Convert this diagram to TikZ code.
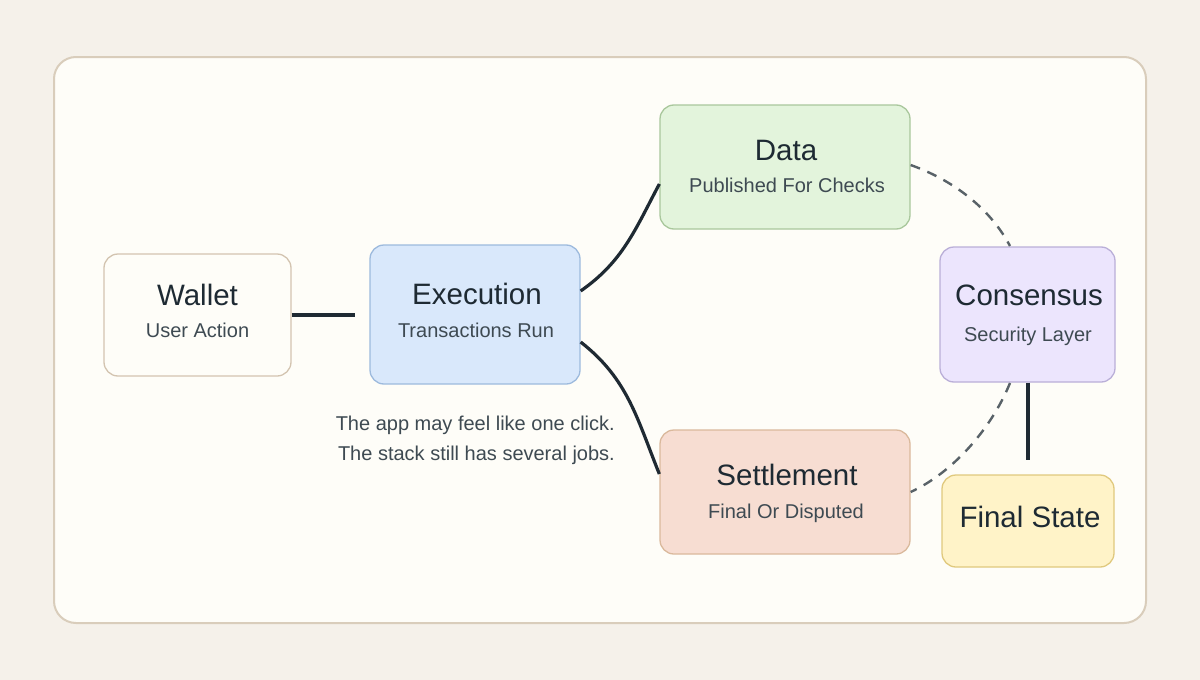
\documentclass[tikz,border=0pt]{standalone}
\usepackage{fontspec}
\setmainfont{Liberation Sans}
\definecolor{bgc}{HTML}{F5F1EA}
\definecolor{panelc}{HTML}{FEFDF8}
\definecolor{panelb}{HTML}{D9CDBB}
\definecolor{titlec}{HTML}{1E2A33}
\definecolor{subc}{HTML}{3E4A52}
\definecolor{linec}{HTML}{1F2A33}
\definecolor{dashc}{HTML}{596268}
\definecolor{walletf}{HTML}{FEFDF8}\definecolor{walletb}{HTML}{D3C4B0}
\definecolor{execf}{HTML}{D9E8FB}\definecolor{execb}{HTML}{9DBADD}
\definecolor{dataf}{HTML}{E3F4DC}\definecolor{datab}{HTML}{A9C79C}
\definecolor{consf}{HTML}{ECE5FD}\definecolor{consb}{HTML}{BAAFD8}
\definecolor{settf}{HTML}{F7DDD2}\definecolor{settb}{HTML}{DAB99C}
\definecolor{finf}{HTML}{FFF3C8}\definecolor{finb}{HTML}{E0C97E}
\tikzset{
  box/.style={draw, line width=1.3pt, rounded corners=14pt, inner sep=0pt},
  ttl/.style={anchor=base, text=titlec, font=\fontsize{29.5}{32}\selectfont, inner sep=0pt},
  sub/.style={anchor=base, text=subc, font=\fontsize{20}{24}\selectfont, inner sep=0pt},
  conn/.style={draw=linec, line width=3.2pt},
  dconn/.style={draw=dashc, line width=2.4pt, dash pattern=on 10pt off 8pt},
}
\begin{document}
\begin{tikzpicture}[x=1pt,y=-1pt]
\useasboundingbox (0,0) rectangle (1200,680);
\fill[bgc] (0,0) rectangle (1200,680);
\filldraw[fill=panelc, draw=panelb, line width=2pt, rounded corners=22pt] (54,57) rectangle (1146,623);

\node[box, fill=walletf, draw=walletb, minimum width=187pt, minimum height=122pt] (wallet) at (197.5,315) {};
\node[box, fill=execf, draw=execb, minimum width=210pt, minimum height=139pt] (exec) at (475,314.5) {};
\node[box, fill=dataf, draw=datab, minimum width=250pt, minimum height=124pt] (data) at (785,167) {};
\node[box, fill=consf, draw=consb, minimum width=175pt, minimum height=135pt] (cons) at (1027.5,314.5) {};
\node[box, fill=settf, draw=settb, minimum width=250pt, minimum height=124pt] (sett) at (785,492) {};
\node[box, fill=finf, draw=finb, minimum width=172pt, minimum height=92pt] (fin) at (1028,521) {};

\node[ttl] (walletT) at (197.5,305) {Wallet};
\node[sub] (walletS) at (197.5,337) {User Action};
\node[ttl] (execT) at (477,304) {Execution};
\node[sub] (execS) at (476,337.5) {Transactions Run};
\node[ttl] (dataT) at (786,160) {Data};
\node[sub] (dataS) at (787,192) {Published For Checks};
\node[ttl] (consT) at (1029,305) {Consensus};
\node[sub] (consS) at (1028,341) {Security Layer};
\node[ttl] (settT) at (787,485) {Settlement};
\node[sub] (settS) at (786,518) {Final Or Disputed};
\node[ttl] (finT) at (1030,527) {Final State};

\node[sub, anchor=base east] (note1) at (615,430) {The app may feel like one click.};
\node[sub, anchor=base east] (note2) at (615,460) {The stack still has several jobs.};

\coordinate (wx) at (355,315);
\draw[conn] (wallet.east) -- (wx);
\draw[conn] (exec.east |- 0,291) to[out=35,in=-118] (data.west |- 0,184);
\draw[conn] (exec.east |- 0,342) to[out=-38,in=112] (sett.west |- 0,474);
\coordinate (fx) at (1028,460);
\draw[conn] (cons.south -| fx) -- (fx);
\draw[dconn] (data.east |- 0,165) .. controls (958,182) and (992,212) .. (1010,246);
\draw[dconn] (1010,383) .. controls (990,432) and (950,474) .. (sett.east |- 0,492);
\end{tikzpicture}
\end{document}
